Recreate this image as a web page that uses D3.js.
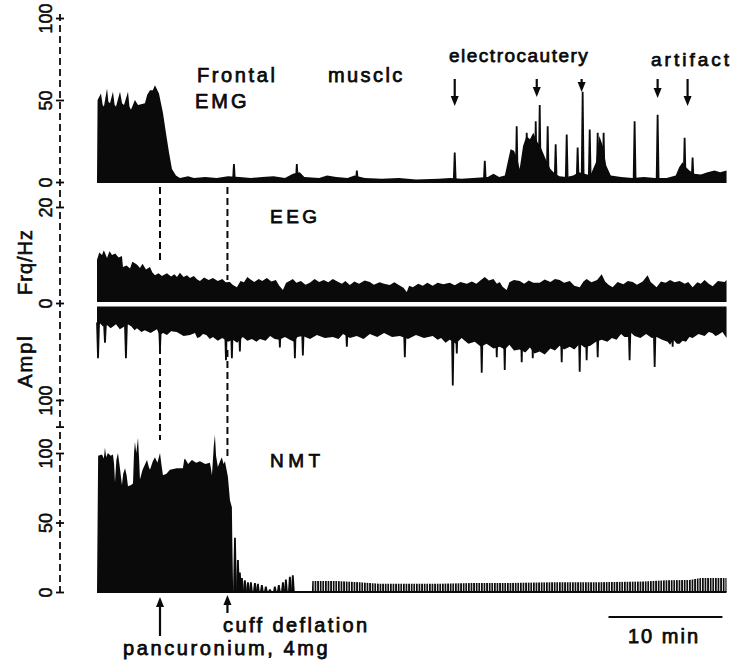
<!DOCTYPE html>
<html>
<head>
<meta charset="utf-8">
<script src="https://cdn.jsdelivr.net/npm/d3@7"></script>
<style>
body { margin: 0; background: #fff; }
svg text { font-family: "Liberation Sans", Arial, sans-serif; fill: #0a0a0a; }
</style>
</head>
<body>
<div id="chart"></div>
<script>
// time in minutes
var emgEnvelope = [[0,0],[0.05,50],[0.35,54],[0.5,47],[0.61,46],[0.88,57],[1.0,49],[1.14,48],[1.40,55],[1.55,47],[1.67,46],[2.02,55],[2.2,48],[2.37,47],[2.72,55],[2.85,46],[2.98,44],[3.33,50],[3.60,47],[4.21,48],[4.4,53],[4.65,56],[4.9,56],[5.09,59],[5.3,56],[5.44,54],[5.79,42],[6.05,30],[6.32,18],[6.58,8],[6.93,4],[7.28,2.5],[8.0,3.5],[8.5,2.5],[9.5,3],[10.5,2.5],[11.5,3.5],[12.5,3],[13.5,2.5],[14.5,3],[15.5,3.5],[16.5,2.5],[17.2,5],[17.8,6],[18.2,3],[19.5,2.5],[20.2,4],[21,3],[22,2.5],[22.6,4],[23.5,2.5],[25,2],[26.5,2.5],[28,1.5],[30,2],[31,2.5],[32,2],[33,2.5],[34.3,3],[34.8,5],[35.3,3],[35.8,4],[36.05,12],[36.3,20],[36.6,19],[36.9,14],[37.1,8],[37.4,22],[37.7,28],[38.0,26],[38.3,30],[38.6,25],[38.9,22],[39.2,17],[39.5,12],[39.8,8],[40.2,5],[40.6,3.5],[41.2,3],[41.8,4],[42.3,6],[42.8,5],[43.3,4],[43.8,12],[44.1,28],[44.4,22],[44.7,10],[45.1,4],[46,3],[47,2.5],[48,3],[49,2.5],[50,2.5],[50.8,4],[51.1,9],[51.4,12],[51.7,9],[52.0,7],[52.4,5],[53,4.5],[53.6,6],[54.2,7],[54.7,6],[55.26,7]];
var emgSpikes = [[12.02,11],[17.54,11],[22.81,7],[31.40,18],[34.04,13],[36.84,34],[37.72,30],[38.51,37],[38.86,47],[39.56,34],[40.26,23],[41.23,29],[42.19,21],[42.63,55],[43.25,32],[43.95,30],[44.47,30],[47.19,37],[49.21,41],[51.58,27],[52.28,15]];

var eegFreq = [[0,9],[0.2,10.5],[0.44,10],[0.6,11],[0.88,9.4],[1.1,10.8],[1.32,10],[1.6,10.3],[1.9,9.5],[2.19,9.8],[2.28,7.5],[2.6,7.8],[2.9,7.2],[3.1,8.6],[3.33,8.3],[3.55,7.9],[3.77,7.3],[4.0,8.2],[4.3,7.0],[4.65,7.5],[4.85,6.4],[5.09,5.8],[5.4,6.2],[5.7,5.6],[6.14,6.2],[6.5,5.5],[6.8,6.0],[7.02,5.4],[7.28,6.3],[7.6,5.4],[7.9,5.8],[8.16,5.2],[8.5,5.6],[8.8,4.9],[9.04,4.6],[9.4,5.3],[9.8,4.8],[10.18,5.2],[10.6,4.6],[11.0,5.0],[11.3,4.3],[11.67,4.4],[11.9,3.8],[12.28,3.3],[12.6,4.6],[12.9,4.3],[13.2,5.4],[13.42,5],[13.8,4.4],[14.2,5.0],[14.5,4.6],[14.91,5.2],[15.3,4.5],[15.7,4.8],[16.0,3.6],[16.32,2.7],[16.6,4.2],[16.9,4.6],[17.19,5],[17.5,4.2],[17.9,4.6],[18.3,3.8],[18.68,4.2],[19.1,5.0],[19.5,4.4],[19.9,4.8],[20.3,4.3],[20.70,5],[21.1,4.5],[21.5,4.0],[21.8,4.6],[22.19,3.75],[22.6,4.5],[23.0,4.0],[23.5,4.7],[23.95,4.4],[24.3,3.8],[24.8,4.3],[25.2,4.0],[25.70,3.75],[26.1,4.3],[26.6,3.6],[26.9,3.2],[27.19,2.3],[27.4,3.6],[27.72,3.3],[28.2,4.0],[28.6,3.6],[29.0,4.2],[29.47,3.6],[29.9,4.2],[30.4,3.9],[30.96,4.2],[31.4,3.7],[31.9,4.4],[32.46,4.0],[32.9,4.5],[33.3,4.0],[33.7,4.8],[34.04,5.4],[34.4,4.7],[34.8,5.0],[35.1,4.0],[35.35,4.4],[35.6,3.4],[35.96,2.7],[36.2,4.3],[36.6,4.8],[37.11,4.6],[37.5,4.0],[37.9,4.7],[38.3,4.2],[38.86,4.2],[39.3,4.9],[39.8,4.4],[40.2,5.0],[40.61,4.8],[41.0,4.2],[41.5,4.6],[41.9,3.6],[42.37,3.3],[42.7,4.5],[42.98,5],[43.4,4.3],[43.9,4.8],[44.30,6],[44.6,4.5],[44.9,3.8],[45.26,3.3],[45.7,4.4],[46.2,3.9],[46.6,4.6],[47.02,4.4],[47.4,3.8],[47.9,4.5],[48.33,5.8],[48.6,4.4],[49.12,3.3],[49.5,4.5],[49.9,4.2],[50.3,4.8],[50.7,4.3],[51.14,4.6],[51.6,4.0],[51.9,4.4],[52.28,3.3],[52.7,4.3],[53.0,4.0],[53.33,4.8],[53.7,4.0],[54.04,3.5],[54.5,4.6],[55.09,4.4],[55.26,4.8]];
var eegAmp = [[0,28],[0.26,21],[0.5,24],[0.9,23],[1.2,26],[1.67,22],[2.0,27],[2.3,25],[2.7,22],[3.0,24],[3.3,28],[3.51,26],[3.9,30],[4.2,28],[4.7,31],[5.26,27],[5.5,33],[5.8,31],[6.14,33],[6.5,29],[7.0,30],[7.6,34],[8.16,33],[8.6,31],[8.8,36],[9.04,35],[9.3,32],[9.6,33],[9.9,37],[10.18,35],[10.6,39],[11.0,36],[11.5,40],[11.93,38],[12.3,41],[12.8,35],[13.2,39],[13.6,37],[14.0,40],[14.3,37],[14.8,39],[15.2,34],[15.6,37],[16.0,38],[16.5,35],[16.93,38],[17.3,40],[17.6,35],[18.07,34],[18.7,37],[19.3,33],[20.0,36],[20.7,35],[21.2,37],[21.6,32],[22.2,36],[22.8,34],[23.4,37],[23.95,32],[24.6,35],[25.2,31],[25.9,35],[26.58,34],[27.3,37],[28,33],[28.7,36],[29.47,34],[29.9,38],[30.2,36],[30.6,41],[30.96,38],[31.5,42],[32.0,36],[32.6,42],[33.16,40],[33.7,45],[34.2,42],[34.8,47],[35.35,45],[35.8,48],[36.2,43],[36.6,49],[37.11,48],[37.6,51],[38.0,46],[38.4,52],[38.86,50],[39.3,53],[39.8,47],[40.2,49],[40.61,44],[41.0,48],[41.5,45],[41.9,48],[42.37,42],[42.8,46],[43.3,44],[43.8,40],[44.3,38],[44.8,40],[45.2,36],[45.6,38],[46,32],[46.3,35],[46.6,35],[46.9,31],[47.19,34],[47.7,36],[48.2,32],[48.7,36],[49.12,35],[49.6,38],[50.09,40],[50.3,43],[50.6,38],[50.9,42],[51.14,42],[51.4,39],[51.7,40],[52.0,35],[52.28,36],[52.8,32],[53.33,34],[53.7,30],[54.0,31],[54.3,34],[54.5,33],[54.9,30],[55.26,36]];
var eegAmpSpikes = [[0.09,57],[0.70,41],[2.54,57],[5.53,48],[11.32,59],[11.84,57],[12.54,50],[16.05,46],[17.37,57],[18.07,54],[21.93,45],[27.02,56],[31.23,85],[31.58,52],[33.77,72],[35.09,56],[35.79,69],[37.28,61],[38.25,57],[40.79,61],[42.37,71],[42.98,59],[43.95,56],[46.75,59],[48.95,66],[50.53,45]];

var nmtBlock = [[0,0],[0.1,98],[0.44,99],[0.6,96],[0.70,104],[0.8,97],[0.96,100],[1.2,98],[1.40,99],[1.5,92],[1.58,79],[1.7,95],[1.84,100],[2.0,90],[2.19,77],[2.3,85],[2.46,89],[2.6,84],[2.72,76],[3.0,77],[3.16,78],[3.25,100],[3.33,108],[3.45,100],[3.60,111],[3.7,95],[3.77,81],[4.0,88],[4.39,95],[4.55,90],[4.65,88],[4.9,94],[5.09,97],[5.3,93],[5.53,100],[5.65,92],[5.79,84],[6.1,85],[6.40,88],[7.0,89],[7.54,89],[7.65,95],[7.72,96],[8.0,92],[8.33,95],[8.7,93],[9.04,94],[9.5,92],[9.91,93],[10.0,89],[10.09,84],[10.25,105],[10.35,113],[10.45,98],[10.61,90],[10.8,94],[10.96,97],[11.1,92],[11.23,94],[11.49,83],[11.67,66],[11.84,61],[11.88,35],[11.95,0]];
var nmtTwitches = [[12.11,39],[12.37,23],[12.54,14],[12.72,10],[12.98,8.5],[13.25,7],[13.51,7],[13.86,6.5],[14.12,6],[14.47,5],[14.82,4],[15.18,2],[15.61,4],[15.96,5],[16.32,7],[16.58,9],[16.93,11],[17.19,12]];
var nmtTrain = [[18.86,0],[18.9,8],[21,8],[23,7],[24.8,6],[27,6],[30,6],[33,6.5],[36,6.5],[40,7],[44,7],[48,7.5],[50,8.5],[52,8.6],[53,10],[55.26,10],[55.26,0]];

var events = [{t: 5.53, label: "pancuronium, 4mg"}, {t: 11.45, label: "cuff deflation"}];
var emgMarks = [31.40, 38.60, 42.54, 49.21, 51.84];
var scaleBar = [44.9, 54.9];

var width = 737, height = 663;
var ink = "#0a0a0a";

var svg = d3.select("#chart").append("svg")
    .attr("width", width)
    .attr("height", height);

var x = d3.scaleLinear().domain([0, 55.3]).range([97, 727]);
var emgY = d3.scaleLinear().domain([0, 100]).range([182, 18]);
var freqY = d3.scaleLinear().domain([0, 20]).range([303, 207]);
var ampY = d3.scaleLinear().domain([0, 100]).range([303, 400]);
var nmtY = d3.scaleLinear().domain([0, 100]).range([592, 453]);

svg.append("defs").append("pattern")
    .attr("id", "comb")
    .attr("patternUnits", "userSpaceOnUse")
    .attr("width", 2.6).attr("height", 20)
  .append("rect")
    .attr("width", 1.7).attr("height", 20)
    .attr("fill", ink);

// dashed left axis, one line through all three panels
svg.append("line")
    .attr("x1", 60).attr("x2", 60)
    .attr("y1", emgY(100) - 4).attr("y2", nmtY(0) + 3)
    .attr("stroke", ink).attr("stroke-width", 1.8)
    .attr("stroke-dasharray", "7,4");

function leftAxis(scale, ticks, labels) {
  var g = svg.append("g")
      .attr("transform", "translate(60,0)")
      .call(d3.axisLeft(scale).tickValues(ticks).tickSize(4)
        .tickFormat(function(d, i) { return labels[i]; }));
  g.select(".domain").remove();
  g.selectAll(".tick line")
      .attr("x1", 4).attr("x2", -4)
      .attr("stroke", ink).attr("stroke-width", 1.8);
  g.selectAll(".tick text")
      .attr("x", 0).attr("dy", "0.35em")
      .attr("transform", "translate(-14,0) rotate(-90)")
      .attr("text-anchor", "middle")
      .attr("fill", ink)
      .style("stroke", ink).style("stroke-width", 0.5)
      .style("font-size", "18px")
      .style("font-family", "'Liberation Sans', Arial, sans-serif");
}
leftAxis(emgY, [0, 50, 100], ["0", "50", "100"]);
leftAxis(freqY, [0, 20], ["0", "20"]);
leftAxis(ampY, [100], ["100"]);
leftAxis(nmtY, [0, 50, 100, 119], ["0", "50", "100", ""]);

svg.append("text")
    .attr("transform", "translate(32,262) rotate(-90)")
    .attr("text-anchor", "middle")
    .style("font-size", "20px").attr("letter-spacing", 1)
    .style("stroke", ink).style("stroke-width", 0.6)
    .text("Frq/Hz");
svg.append("text")
    .attr("transform", "translate(32,361) rotate(-90)")
    .attr("text-anchor", "middle")
    .style("font-size", "20px").attr("letter-spacing", 2)
    .style("stroke", ink).style("stroke-width", 0.6)
    .text("Ampl");

// dashed markers dropping from the EMG trace
events.forEach(function(e, i) {
  var ends = i === 0 ? [[187, 262], [347, 440]] : [[187, 280], [350, 458]];
  ends.forEach(function(s) {
    svg.append("line")
        .attr("x1", x(e.t)).attr("x2", x(e.t))
        .attr("y1", s[0]).attr("y2", s[1])
        .attr("stroke", ink).attr("stroke-width", 2)
        .attr("stroke-dasharray", "7,4");
  });
});

// EMG
svg.append("path")
    .datum(emgEnvelope)
    .attr("fill", ink)
    .attr("d", d3.area().x(function(d) { return x(d[0]); })
      .y0(emgY(0) + 1).y1(function(d) { return emgY(d[1]); }));

function spikes(data, yScale, base) {
  svg.append("g").selectAll("path")
    .data(data)
    .enter().append("path")
      .attr("fill", ink)
      .attr("d", function(d) {
        var cx = x(d[0]), y0 = base, y1 = yScale(d[1]);
        return "M" + (cx - 1.9) + "," + y0 + "L" + (cx - 0.9) + "," + y1 +
          "L" + (cx + 0.9) + "," + y1 + "L" + (cx + 1.9) + "," + y0 + "Z";
      });
}
spikes(emgSpikes, emgY, emgY(0));

// EEG: frequency up, amplitude down
svg.append("path")
    .datum(eegFreq)
    .attr("fill", ink)
    .attr("d", d3.area().x(function(d) { return x(d[0]); })
      .y0(freqY(0) - 1).y1(function(d) { return freqY(d[1]); }));
svg.append("path")
    .datum(eegAmp)
    .attr("fill", ink)
    .attr("d", d3.area().x(function(d) { return x(d[0]); })
      .y0(ampY(0) + 3.5).y1(function(d) { return ampY(d[1]); }));
spikes(eegAmpSpikes, ampY, ampY(20));

// NMT
svg.append("line")
    .attr("x1", x(0)).attr("x2", x(55.26))
    .attr("y1", nmtY(0)).attr("y2", nmtY(0))
    .attr("stroke", ink).attr("stroke-width", 2.2);
svg.append("path")
    .datum(nmtBlock)
    .attr("fill", ink)
    .attr("d", d3.area().x(function(d) { return x(d[0]); })
      .y0(nmtY(0)).y1(function(d) { return nmtY(d[1]); }));
spikes(nmtTwitches, nmtY, nmtY(0));
svg.append("path")
    .datum(nmtTrain)
    .attr("fill", "url(#comb)")
    .attr("d", d3.area().x(function(d) { return x(d[0]); })
      .y0(nmtY(0)).y1(function(d) { return nmtY(d[1]); }));

// arrows
function arrow(cx, yTail, yTip) {
  var dir = yTip > yTail ? 1 : -1;
  svg.append("line")
      .attr("x1", cx).attr("x2", cx)
      .attr("y1", yTail).attr("y2", yTip - dir * 6)
      .attr("stroke", ink).attr("stroke-width", 2.2);
  svg.append("path")
      .attr("fill", ink)
      .attr("d", "M" + (cx - 4) + "," + (yTip - dir * 10) + "L" + (cx + 4) + "," + (yTip - dir * 10) +
        "L" + cx + "," + yTip + "Z");
}
var tips = [106, 97, 92, 98, 106];
emgMarks.forEach(function(t, i) { arrow(x(t), 79, tips[i]); });
arrow(x(events[0].t), 636, 597);
arrow(x(events[1].t), 613, 595);

// scale bar
svg.append("line")
    .attr("x1", x(scaleBar[0])).attr("x2", x(scaleBar[1]))
    .attr("y1", 617).attr("y2", 617)
    .attr("stroke", ink).attr("stroke-width", 2);

var labels = [
  {text: "Frontal", x: 197, y: 82, ls: 2.6},
  {text: "musclc", x: 328, y: 82, ls: 2.4},
  {text: "EMG", x: 195, y: 108, ls: 3},
  {text: "electrocautery", x: 449, y: 62, ls: 1.5, size: 19},
  {text: "artifact", x: 651, y: 66, ls: 3, size: 19},
  {text: "EEG", x: 270, y: 223, ls: 3.5, size: 19},
  {text: "NMT", x: 270, y: 467, ls: 4.5, size: 19},
  {text: "cuff deflation", x: 223, y: 632, ls: 2.4},
  {text: "pancuronium, 4mg", x: 123, y: 655, ls: 2.6},
  {text: "10 min", x: 628, y: 643, ls: 2}
];
svg.selectAll(".label")
    .data(labels)
    .enter().append("text")
      .attr("class", "label")
      .attr("x", function(d) { return d.x; })
      .attr("y", function(d) { return d.y; })
      .attr("letter-spacing", function(d) { return d.ls; })
      .style("font-size", function(d) { return (d.size || 20) + "px"; })
      .style("stroke", ink).style("stroke-width", 0.75)
      .text(function(d) { return d.text; });
</script>
</body>
</html>
